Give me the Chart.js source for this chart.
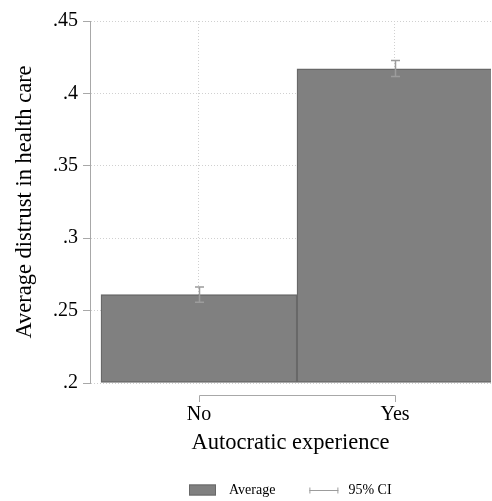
<!DOCTYPE html>
<html>
<head>
<meta charset="utf-8">
<script src="https://cdn.jsdelivr.net/npm/chart.js@4.4.1/dist/chart.umd.min.js"></script>
<style>
  html, body { margin: 0; padding: 0; background: #ffffff; }
  #wrap { width: 492px; height: 501px; }
</style>
</head>
<body>
<div id="wrap"><canvas id="chart" width="492" height="501"></canvas></div>
<script>
// Average distrust in health care by autocratic experience, with 95% CIs
const categories = ['No', 'Yes'];
const meanDistrust = [0.261, 0.417];
const ciLower = [0.2557, 0.4117];
const ciUpper = [0.2663, 0.4228];
const yTickValues = [0.2, 0.25, 0.3, 0.35, 0.4, 0.45];
const legendLabels = ['Average', '95% CI'];

const SERIF = "'Liberation Serif', 'Times New Roman', serif";
const BAR_FILL = '#808080';
const BAR_EDGE = '#686868';
const CI_COLOR = '#9c9c9c';
const AXIS_COLOR = '#a8a8a8';
const GRID_COLOR = '#d0d0d0';

const fmtTick = v => String(+(+v).toFixed(2)).replace(/^0\./, '.');

// Capped interval lines drawn over the bars
const errorBars = {
  id: 'errorBars',
  afterDatasetsDraw(chart) {
    const { ctx, scales: { x, y } } = chart;
    ctx.save();
    ctx.strokeStyle = CI_COLOR;
    ctx.lineWidth = 1.5;
    categories.forEach((c, i) => {
      const px = Math.round(x.getPixelForValue(i + 1)) + 0.5;
      const lo = y.getPixelForValue(ciLower[i]);
      const hi = y.getPixelForValue(ciUpper[i]);
      ctx.beginPath();
      ctx.moveTo(px, lo); ctx.lineTo(px, hi);
      ctx.moveTo(px - 4.5, lo); ctx.lineTo(px + 4.5, lo);
      ctx.moveTo(px - 4.5, hi); ctx.lineTo(px + 4.5, hi);
      ctx.stroke();
    });
    ctx.restore();
  }
};

// Category axis line, spanning first to last category, set below the plot
const categoryAxis = {
  id: 'categoryAxis',
  afterDraw(chart) {
    const { ctx, chartArea, scales: { x } } = chart;
    const yLine = Math.round(chartArea.bottom + 12) + 0.5;
    const xs = categories.map((c, i) => Math.round(x.getPixelForValue(i + 1)) + 0.5);
    ctx.save();
    ctx.strokeStyle = AXIS_COLOR;
    ctx.lineWidth = 1;
    ctx.beginPath();
    ctx.moveTo(xs[0], yLine);
    ctx.lineTo(xs[xs.length - 1], yLine);
    xs.forEach(px => { ctx.moveTo(px, yLine); ctx.lineTo(px, yLine + 6.5); });
    ctx.stroke();
    ctx.restore();
  }
};

// Key at the bottom, centred under the plot region
const bottomKey = {
  id: 'bottomKey',
  afterDraw(chart) {
    const { ctx, chartArea } = chart;
    ctx.save();
    ctx.font = '14px ' + SERIF;
    ctx.textBaseline = 'middle';
    const w1 = ctx.measureText(legendLabels[0]).width;
    const w2 = ctx.measureText(legendLabels[1]).width;
    const total = 27 + 13 + w1 + 34 + 29 + 10 + w2;
    let x = Math.round((chartArea.left + chartArea.right) / 2 - total / 2);
    const cy = chart.height - 11;
    ctx.fillStyle = BAR_FILL;
    ctx.fillRect(x, cy - 5.5, 27, 11);
    ctx.strokeStyle = BAR_EDGE;
    ctx.lineWidth = 1;
    ctx.strokeRect(x + 0.5, cy - 5, 26, 10);
    x += 27 + 13;
    ctx.fillStyle = '#000000';
    ctx.fillText(legendLabels[0], x, cy);
    x += w1 + 34;
    ctx.strokeStyle = CI_COLOR;
    ctx.beginPath();
    const ly = Math.round(cy) + 0.5;
    ctx.moveTo(x, ly); ctx.lineTo(x + 29, ly);
    ctx.moveTo(x + 0.5, ly - 3); ctx.lineTo(x + 0.5, ly + 3);
    ctx.moveTo(x + 28.5, ly - 3); ctx.lineTo(x + 28.5, ly + 3);
    ctx.stroke();
    x += 29 + 10;
    ctx.fillText(legendLabels[1], x, cy);
    ctx.restore();
  }
};

new Chart(document.getElementById('chart'), {
  type: 'bar',
  data: {
    datasets: [{
      label: legendLabels[0],
      data: categories.map((c, i) => ({ x: i + 1, y: meanDistrust[i] })),
      backgroundColor: BAR_FILL,
      borderColor: BAR_EDGE,
      borderWidth: 1.5,
      borderSkipped: false,
      base: yTickValues[0],
      barPercentage: 1,
      categoryPercentage: 1
    }]
  },
  options: {
    responsive: false,
    animation: false,
    devicePixelRatio: 1,
    layout: { padding: { top: 21, right: 1, bottom: 0, left: 0 } },
    plugins: { legend: { display: false }, tooltip: { enabled: false } },
    scales: {
      x: {
        type: 'linear',
        offset: false,
        min: 0.4439,
        max: 2.4898,
        afterBuildTicks: s => { s.ticks = categories.map((c, i) => ({ value: i + 1 })); },
        afterFit: s => { s.height = 118; },
        ticks: {
          callback: v => categories[Math.round(v) - 1],
          font: { family: SERIF, size: 20 },
          color: '#000000',
          padding: 3,
          maxRotation: 0,
          autoSkip: false
        },
        grid: { offset: false, color: GRID_COLOR, lineWidth: 1, tickColor: 'rgba(0,0,0,0)', tickLength: 17 },
        border: { display: false, dash: [1, 2] },
        title: {
          display: true,
          text: 'Autocratic experience',
          font: { family: SERIF, size: 22.5 },
          color: '#000000',
          padding: { top: 0, bottom: 44 }
        }
      },
      y: {
        min: yTickValues[0],
        max: yTickValues[yTickValues.length - 1],
        afterBuildTicks: s => { s.ticks = yTickValues.map(v => ({ value: v })); },
        afterFit: s => { s.width = 90; },
        ticks: {
          callback: v => fmtTick(v),
          font: { family: SERIF, size: 20 },
          color: '#000000',
          padding: 5
        },
        grid: { color: GRID_COLOR, lineWidth: 1, tickColor: AXIS_COLOR, tickLength: 7, tickBorderDash: [] },
        border: { display: true, color: AXIS_COLOR, width: 1, dash: [1, 2] },
        title: {
          display: true,
          text: 'Average distrust in health care',
          font: { family: SERIF, size: 22.5 },
          color: '#000000',
          padding: { top: 12, bottom: 0 }
        }
      }
    }
  },
  plugins: [errorBars, categoryAxis, bottomKey]
});
</script>
</body>
</html>
